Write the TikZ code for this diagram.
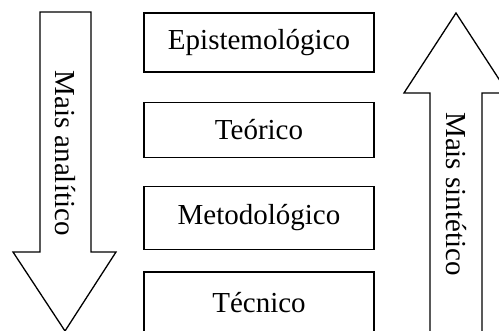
\documentclass[tikz,border=0pt]{standalone}
\usepackage{fontspec}
\setmainfont{Liberation Serif}
\begin{document}
\begin{tikzpicture}[x=1pt,y=-1pt,
  level/.style={draw,line width=1.3pt,minimum width=230pt,inner sep=0pt,font=\fontsize{29}{33}\selectfont},
  bigarrow/.style={draw,line width=1.3pt,line join=miter},
  arrowlabel/.style={font=\fontsize{29}{33}\selectfont,inner sep=0pt}]
\useasboundingbox (0,0) rectangle (499,331);
\clip (0,0) rectangle (499,331);
% left arrow (down)
\draw[bigarrow] (40,12) -- (91,12) -- (91,252) -- (116,252) -- (65,331) -- (13,252) -- (40,252) -- cycle;
\node[arrowlabel,rotate=-90] (la) at (65,153) {Mais analítico};
% right arrow (up)
\draw[bigarrow] (430,340) -- (430,93) -- (404,93) -- (456,13) -- (508,93) -- (482,93) -- (482,340);
\node[arrowlabel,rotate=-90] (ra) at (456,194) {Mais sintético};
% levels
\node[level,minimum height=59pt] (epi) at (259,42.5) {Epistemológico};
\node[level,minimum height=55pt] (teo) at (259,130) {Teórico};
\node[level,minimum height=63pt] (met) at (259,218) {Metodológico};
\node[level,minimum height=62pt] (tec) at (259,303) {Técnico};
\end{tikzpicture}
\end{document}
